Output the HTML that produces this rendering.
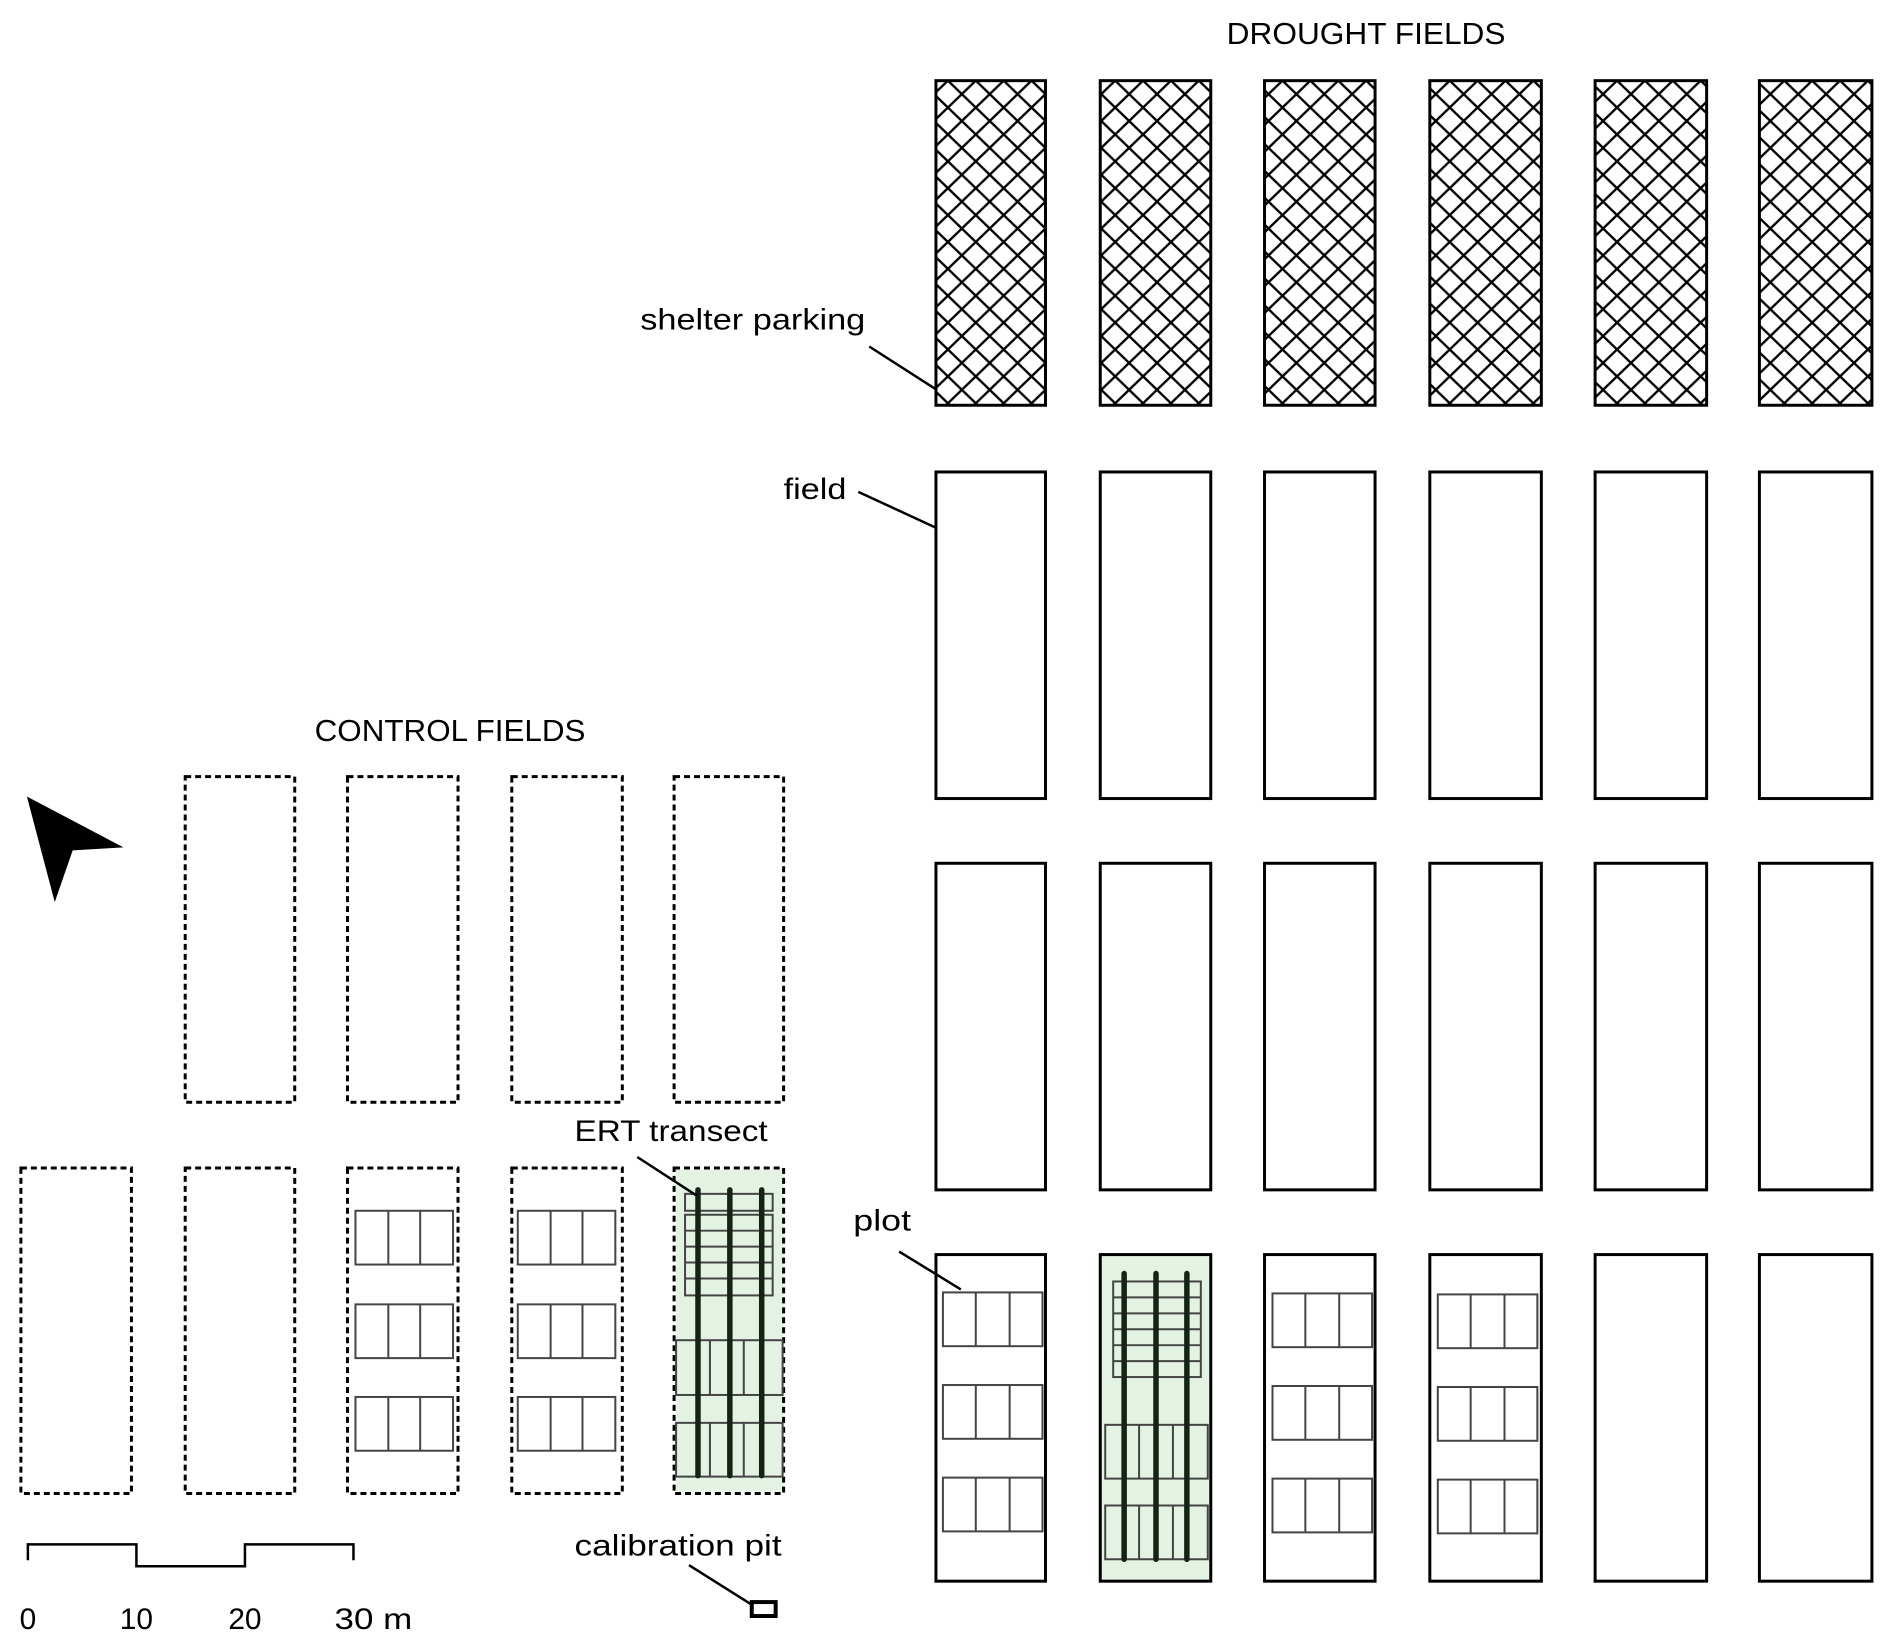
<!DOCTYPE html>
<html><head><meta charset="utf-8"><style>html,body{margin:0;padding:0;background:#fff}svg{display:block}</style></head>
<body>
<svg width="1892" height="1648" viewBox="0 0 1892 1648" xmlns="http://www.w3.org/2000/svg" font-family="Liberation Sans, sans-serif" font-size="31" fill="none">
<defs>
<pattern id="hatch" x="0" y="0" width="28" height="27" patternUnits="userSpaceOnUse">
<path d="M0,0 L28,27 M-14,13.5 L14,40.5 M14,-13.5 L42,13.5 M28,0 L0,27 M14,-13.5 L-14,13.5 M42,13.5 L14,40.5" stroke="#000" stroke-width="2.4"/>
</pattern>
<g id="plot"><rect x="0" y="0" width="100" height="54" stroke="#444" stroke-width="2"/><path d="M33,0V54M67,0V54" stroke="#444" stroke-width="2"/></g>
<g id="plotc"><rect x="0" y="0" width="98" height="54" stroke="#444" stroke-width="2"/><path d="M33,0V54M65,0V54" stroke="#444" stroke-width="2"/></g>
</defs>
<g transform="scale(0.9957)">
<text x="1372" y="44" fill="#000" text-anchor="middle" textLength="280" lengthAdjust="spacingAndGlyphs">DROUGHT FIELDS</text>
<text x="452" y="744" fill="#000" text-anchor="middle" textLength="272" lengthAdjust="spacingAndGlyphs">CONTROL FIELDS</text>

<g stroke="#000" stroke-width="3">
<rect x="940" y="81" width="110" height="326" fill="url(#hatch)"/>
<rect x="1105" y="81" width="111" height="326" fill="url(#hatch)"/>
<rect x="1270" y="81" width="111" height="326" fill="url(#hatch)"/>
<rect x="1436" y="81" width="112" height="326" fill="url(#hatch)"/>
<rect x="1602" y="81" width="112" height="326" fill="url(#hatch)"/>
<rect x="1767" y="81" width="113" height="326" fill="url(#hatch)"/>
</g>

<g stroke="#000" stroke-width="3">
<rect x="940" y="474" width="110" height="328"/><rect x="1105" y="474" width="111" height="328"/><rect x="1270" y="474" width="111" height="328"/><rect x="1436" y="474" width="112" height="328"/><rect x="1602" y="474" width="112" height="328"/><rect x="1767" y="474" width="113" height="328"/>
<rect x="940" y="867" width="110" height="328"/><rect x="1105" y="867" width="111" height="328"/><rect x="1270" y="867" width="111" height="328"/><rect x="1436" y="867" width="112" height="328"/><rect x="1602" y="867" width="112" height="328"/><rect x="1767" y="867" width="113" height="328"/>
<rect x="1105" y="1260" width="111" height="328" fill="#e3f2e3"/>
<rect x="940" y="1260" width="110" height="328"/><rect x="1270" y="1260" width="111" height="328"/><rect x="1436" y="1260" width="112" height="328"/><rect x="1602" y="1260" width="112" height="328"/><rect x="1767" y="1260" width="113" height="328"/>
</g>

<use href="#plot" x="947" y="1298"/><use href="#plot" x="947" y="1391"/><use href="#plot" x="947" y="1484"/>
<use href="#plot" x="1278" y="1299"/><use href="#plot" x="1278" y="1392"/><use href="#plot" x="1278" y="1485"/>
<use href="#plot" x="1444" y="1300"/><use href="#plot" x="1444" y="1393"/><use href="#plot" x="1444" y="1486"/>

<g stroke="#444" stroke-width="2">
<rect x="1118" y="1287" width="88" height="96"/>
<path d="M1118,1303H1206M1118,1319H1206M1118,1335H1206M1118,1351H1206M1118,1367H1206"/>
<rect x="1110" y="1431" width="103" height="54"/><path d="M1144,1431V1485M1178,1431V1485"/>
<rect x="1110" y="1512" width="103" height="54"/><path d="M1144,1512V1566M1178,1512V1566"/>
</g>
<path d="M1129,1279V1566M1161,1279V1566M1192,1279V1566" stroke="#142414" stroke-width="5.5" stroke-linecap="round"/>

<rect x="679" y="1175" width="108" height="323" fill="#e3f2e3"/>
<g stroke="#000" stroke-width="3" stroke-dasharray="6,4">
<rect x="186" y="780" width="110" height="327"/><rect x="349" y="780" width="111" height="327"/><rect x="514" y="780" width="111" height="327"/><rect x="677" y="780" width="110" height="327"/>
<rect x="21" y="1173" width="111" height="327"/><rect x="186" y="1173" width="110" height="327"/><rect x="349" y="1173" width="111" height="327"/><rect x="514" y="1173" width="111" height="327"/><rect x="677" y="1173" width="110" height="327"/>
</g>
<use href="#plotc" x="357" y="1216"/><use href="#plotc" x="357" y="1310"/><use href="#plotc" x="357" y="1403"/>
<use href="#plotc" x="520" y="1216"/><use href="#plotc" x="520" y="1310"/><use href="#plotc" x="520" y="1403"/>
<g stroke="#444" stroke-width="2">
<rect x="688" y="1199" width="88" height="17"/>
<rect x="688" y="1220" width="88" height="81"/>
<path d="M688,1236H776M688,1252H776M688,1268H776M688,1284H776"/>
<rect x="679" y="1346" width="107" height="55"/><path d="M713,1346V1401M747,1346V1401"/>
<rect x="679" y="1429" width="107" height="54"/><path d="M713,1429V1483M747,1429V1483"/>
</g>
<path d="M701,1195V1482M733,1195V1482M765,1195V1482" stroke="#142414" stroke-width="5.5" stroke-linecap="round"/>

<g fill="#000" font-size="30">
<text x="643" y="331" textLength="226" lengthAdjust="spacingAndGlyphs">shelter parking</text>
<text x="787" y="501" textLength="63" lengthAdjust="spacingAndGlyphs">field</text>
<text x="577" y="1146" textLength="194" lengthAdjust="spacingAndGlyphs">ERT transect</text>
<text x="857" y="1236" textLength="58" lengthAdjust="spacingAndGlyphs">plot</text>
<text x="577" y="1562" textLength="208" lengthAdjust="spacingAndGlyphs">calibration pit</text>
<text x="28" y="1636" text-anchor="middle">0</text>
<text x="137" y="1636" text-anchor="middle">10</text>
<text x="246" y="1636" text-anchor="middle">20</text>
<text x="336" y="1636" textLength="78" lengthAdjust="spacingAndGlyphs">30 m</text>
</g>
<g stroke="#000" stroke-width="2.5">
<path d="M873,348L940,391"/><path d="M862,494L940,530"/><path d="M640,1162L700,1201"/><path d="M903,1257L965,1295"/><path d="M692,1572L754,1611"/>
</g>
<rect x="755" y="1609" width="24" height="14" stroke="#000" stroke-width="4"/>

<path d="M28,1567V1551H137V1573H246V1551H355V1567" stroke="#000" stroke-width="2.5"/>

<polygon points="27,800 124,851 73,854 55,906" fill="#000"/>
</g>
</svg>
</body></html>
